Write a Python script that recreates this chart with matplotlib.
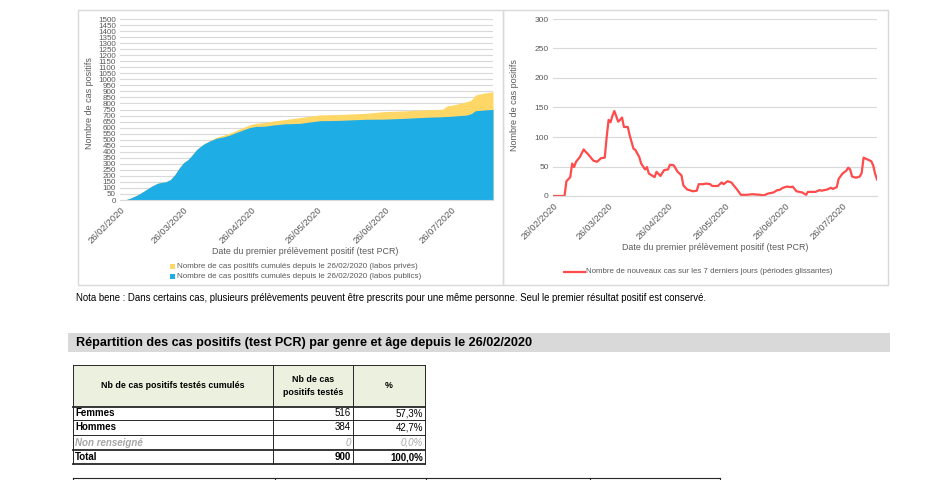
import matplotlib
matplotlib.use('Agg')
import matplotlib.pyplot as plt
import matplotlib.dates as mdates
from matplotlib.patches import Rectangle
from datetime import date, timedelta

plt.rcParams['font.family'] = ['Liberation Sans', 'DejaVu Sans']

W, H = 949, 480
GREY_TXT = '#595959'
GRID = '#d9d9d9'
BLUE = '#1fade6'
YELLOW = '#ffd766'
RED = '#ff4b4b'

# ---- data ----
start = date(2020, 2, 26)
tick_dates = [date(2020, m, 26) for m in range(2, 8)]

# cumulative positives (days since 26/02/2020)
cum_days = [0, 3, 5, 8, 11, 14, 17, 19, 21, 23, 25, 27, 29, 31, 33, 35, 38,
            41, 44, 47, 50, 53, 56, 59, 62, 66, 70, 75, 82, 86, 91, 100, 112,
            120, 130, 140, 147, 149, 153, 158, 160, 162, 166, 170]
cum_public = [0, 5, 18, 42, 75, 110, 138, 146, 152, 170, 210, 265, 310, 335,
              375, 420, 462, 490, 512, 522, 538, 560, 580, 600, 610, 612, 622,
              631, 635, 645, 657, 660, 669, 670, 677, 686, 690, 692, 697, 704,
              715, 740, 746, 751]
cum_private = [0, 0, 0, 0, 0, 0, 0, 0, 0, 0, 0, 0, 0, 0, 0, 0, 0,
               4, 8, 14, 15, 17, 20, 22, 26, 30, 33, 35, 48, 48, 48, 49, 49,
               62, 62, 62, 62, 87, 95, 111, 112, 130, 140, 146]

# 7-day rolling new cases
roll_days = [0, 6, 7, 9, 10, 11, 12, 14, 16, 17, 18, 21, 23, 25, 27, 28, 29,
             30, 31, 32, 34, 35, 36, 37, 39, 40, 42, 43, 45, 46, 48, 49, 50,
             53, 54, 56, 58, 60, 61, 63, 65, 67, 68, 70, 73, 75, 76, 78, 80,
             82, 83, 86, 88, 89, 91, 93, 95, 96, 98, 101, 104, 108, 110, 112,
             115, 117, 118, 120, 122, 124, 125, 127, 130, 132, 133, 137, 139,
             140, 143, 145, 146, 148, 149, 151, 153, 154, 155, 156, 158, 160,
             161, 162, 164, 166, 167, 168, 169]
roll_values = [0, 0, 25, 32, 55, 49, 58, 66, 79, 75, 72, 60, 58, 64, 65, 100,
               129, 125, 136, 144, 126, 129, 133, 117, 117, 103, 80, 78, 66,
               55, 45, 49, 38, 32, 41, 34, 44, 45, 53, 52, 41, 35, 18, 11, 8,
               9, 20, 20, 21, 20, 17, 17, 23, 20, 25, 23, 15, 11, 2, 2, 3, 2,
               1, 4, 6, 10, 10, 14, 16, 15, 16, 8, 6, 2, 7, 7, 10, 9, 11, 14,
               12, 15, 29, 38, 43, 48, 45, 33, 31, 33, 39, 65, 62, 59, 52, 38,
               28]

leg_private = 'Nombre de cas positifs cumulés depuis le 26/02/2020 (labos privés)'
leg_public = 'Nombre de cas positifs cumulés depuis le 26/02/2020 (labos publics)'
leg_roll = 'Nombre de nouveaux cas sur les 7 derniers jours (périodes glissantes)'
xlabel = 'Date du premier prélèvement positif (test PCR)'
ylabel = 'Nombre de cas positifs'

note = ('Nota bene : Dans certains cas, plusieurs prélèvements peuvent être prescrits '
        'pour une même personne. Seul le premier résultat positif est conservé.')
section = 'Répartition des cas positifs (test PCR) par genre et âge depuis le 26/02/2020'

table_head = ['Nb de cas positifs testés cumulés', 'Nb de cas\npositifs testés', '%']
table_rows = ['Femmes', 'Hommes', 'Non renseigné', 'Total']
table_counts = [516, 384, 0, 900]
table_pct = ['57,3%', '42,7%', '0,0%', '100,0%']


def rect(x0, y0, x1, y1):
    return [x0 / W, 1 - y1 / H, (x1 - x0) / W, (y1 - y0) / H]


def to_dates(days):
    return [start + timedelta(days=d) for d in days]


fig = plt.figure(figsize=(W / 100, H / 100), dpi=100)
fig.patch.set_facecolor('white')

bg = fig.add_axes([0, 0, 1, 1], zorder=0)
bg.set_xlim(0, W)
bg.set_ylim(H, 0)
bg.axis('off')

# chart frames
bg.add_patch(Rectangle((78, 9.5), 425, 275.5, fill=False, ec='#d9d9d9', lw=1))
bg.add_patch(Rectangle((503.5, 9.5), 385, 275.5, fill=False, ec='#d9d9d9', lw=1))


def style_axis(ax, ymax, ystep, ysize):
    ax.set_facecolor('none')
    for s in ['top', 'right', 'left']:
        ax.spines[s].set_visible(False)
    ax.spines['bottom'].set_color(GRID)
    ax.set_ylim(0, ymax)
    ax.set_yticks(range(0, ymax + 1, ystep))
    ax.yaxis.grid(True, color=GRID, lw=0.8)
    ax.set_axisbelow(True)
    ax.set_xticks(tick_dates)
    ax.xaxis.set_major_formatter(mdates.DateFormatter('%d/%m/%Y'))
    ax.tick_params(length=0, colors=GREY_TXT)
    ax.tick_params(axis='y', labelsize=ysize, pad=3)
    ax.tick_params(axis='x', labelsize=6.8, pad=4)
    for lab in ax.get_xticklabels():
        lab.set_rotation(45)
        lab.set_ha('right')
        lab.set_rotation_mode('anchor')


# ---- left: cumulative ----
ax1 = fig.add_axes(rect(120, 19, 493, 200), zorder=2)
d1 = to_dates(cum_days)
total = [a + b for a, b in zip(cum_public, cum_private)]
ax1.fill_between(d1, 0, total, color=YELLOW, lw=0)
ax1.fill_between(d1, 0, cum_public, color=BLUE, lw=0)
style_axis(ax1, 1500, 50, 5.8)
ax1.set_xlim(start - timedelta(days=0.8), start + timedelta(days=170))

# ---- right: rolling ----
ax2 = fig.add_axes(rect(553, 19, 877, 196), zorder=2)
ax2.plot(to_dates(roll_days), roll_values, color=RED, lw=1.6)
style_axis(ax2, 300, 50, 6)
ax2.set_xlim(start - timedelta(days=0.9), start + timedelta(days=169.3))

# axis titles
bg.text(90, 103, ylabel, rotation=90, ha='center', va='center', fontsize=6.5, color=GREY_TXT)
bg.text(515, 105, ylabel, rotation=90, ha='center', va='center', fontsize=6.5, color=GREY_TXT)
bg.text(305, 251, xlabel, ha='center', va='center', fontsize=6.4, color=GREY_TXT)
bg.text(715, 248, xlabel, ha='center', va='center', fontsize=6.4, color=GREY_TXT)

# legends
bg.add_patch(Rectangle((170, 264), 5, 5, color=YELLOW, lw=0))
bg.text(177, 266.5, leg_private, ha='left', va='center', fontsize=5.75, color=GREY_TXT)
bg.add_patch(Rectangle((170, 274), 5, 5, color=BLUE, lw=0))
bg.text(177, 276.5, leg_public, ha='left', va='center', fontsize=5.75, color=GREY_TXT)
bg.plot([564, 585], [271.5, 271.5], color=RED, lw=1.6)
bg.text(586, 271.5, leg_roll, ha='left', va='center', fontsize=5.7, color=GREY_TXT)

# note and section header
bg.text(76, 298, note, ha='left', va='center', fontsize=6.9, color='#000000')
bg.add_patch(Rectangle((68, 333), 822, 19, color='#d9d9d9', lw=0))
bg.text(76, 343, section, ha='left', va='center', fontsize=9.1, fontweight='bold', color='#000000')

# ---- table ----
col_x = [73, 273, 353, 425]
row_y = [365, 407, 420, 435, 450, 464]
bg.add_patch(Rectangle((col_x[0], row_y[0]), col_x[-1] - col_x[0], row_y[1] - row_y[0],
                       color='#ebf1de', lw=0))
for i, hd in enumerate(table_head):
    bg.text((col_x[i] + col_x[i + 1]) / 2, (row_y[0] + row_y[1]) / 2, hd,
            ha='center', va='center', fontsize=6.4, fontweight='bold', linespacing=1.5)
for k, y in enumerate(row_y):
    lw = 1.3 if k in (1, 4, 5) else 0.7
    bg.plot([col_x[0], col_x[-1]], [y, y], color='#262626', lw=lw)
for x in col_x:
    bg.plot([x, x], [row_y[0], row_y[-1]], color='#262626', lw=0.7)
fs = 7
for i, name in enumerate(table_rows):
    yc = (row_y[i + 1] + row_y[i + 2]) / 2
    if name == 'Non renseigné':
        kw = dict(color='#a6a6a6', fontstyle='italic')
        bg.text(col_x[0] + 2, yc, name, ha='left', va='center', fontsize=fs, fontweight='bold', **kw)
        bg.text(col_x[2] - 2, yc, str(table_counts[i]), ha='right', va='center', fontsize=fs, **kw)
        bg.text(col_x[3] - 2, yc, table_pct[i], ha='right', va='center', fontsize=fs, **kw)
    else:
        wt = 'bold' if name == 'Total' else 'normal'
        bg.text(col_x[0] + 2, yc, name, ha='left', va='center', fontsize=fs, fontweight='bold')
        bg.text(col_x[2] - 2, yc, str(table_counts[i]), ha='right', va='center', fontsize=fs, fontweight=wt)
        bg.text(col_x[3] - 2, yc, table_pct[i], ha='right', va='center', fontsize=fs, fontweight=wt)

# start of the next table
bg.plot([73, 720], [478, 478], color='#262626', lw=0.8)
for x in [73, 275, 426, 590, 720]:
    bg.plot([x, x], [478, 480], color='#262626', lw=0.8)

fig.savefig('out.png', dpi=100, facecolor='white')
